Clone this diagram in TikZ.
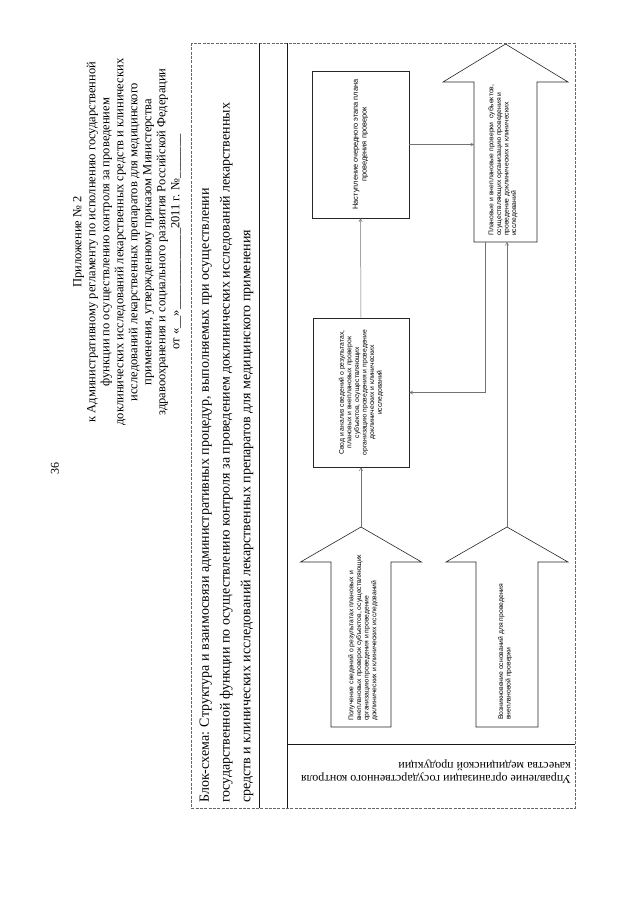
\documentclass[tikz,border=0pt]{standalone}
\usepackage{fontspec}
\setmainfont{Liberation Serif}
\newfontfamily\boxfont{Liberation Sans}
\usetikzlibrary{arrows.meta}
\begin{document}
\begin{tikzpicture}[x=1pt,y=-1pt,
  frame/.style={draw=black!60, line width=0.6pt, dash pattern=on 3pt off 1.3pt},
  rulelane/.style={draw=black!90, line width=0.9pt},
  procbox/.style={draw=black!85, line width=0.6pt, inner sep=0pt},
  blockarrow/.style={draw=black!85, line width=0.6pt, fill=white},
  conn/.style={draw=black!55, line width=0.5pt},
  tipend/.style={-{Straight Barb[length=3pt,width=3.2pt]}},
  nasttext/.style={rotate=90, inner sep=0pt, align=center, font=\boxfont\fontsize{7.4}{8.8}\selectfont},
  boxtext/.style={rotate=90, inner sep=0pt, align=center, font=\boxfont\fontsize{6.8}{7.6}\selectfont},
  arrowtext/.style={rotate=90, anchor=west, inner sep=0pt, align=left, font=\boxfont\fontsize{6.8}{7.6}\selectfont},
  serifrot/.style={rotate=90, inner sep=0pt}
]
\useasboundingbox (0,0) rectangle (640,905);
\fill[white] (0,0) rectangle (640,905);

% page number
\node[serifrot, font=\fontsize{12}{14}\selectfont] (pagenum) at (55,468) {36};

% title block
\node[serifrot, align=center, font=\fontsize{12.5}{14}\selectfont] (title) at (127,242) {Приложение № 2\\
к Административному регламенту по исполнению государственной\\
функции по осуществлению контроля за проведением\\
доклинических исследований лекарственных средств и клинических\\
исследований лекарственных препаратов для медицинского\\
применения, утвержденному приказом Министерства\\
здравоохранения и социального развития Российской Федерации\\
от «\_\_»\_\_\_\_\_\_\_\_\_\_\_\_\_2011 г. №\_\_\_\_\_\_\_};

% frame and lane rules
\coordinate (frameNW) at (191,43);
\coordinate (frameSE) at (575,808);
\draw[frame] (frameNW) rectangle (frameSE);
\coordinate (ruleAtop) at (259,43);
\coordinate (ruleAbot) at (259,808);
\coordinate (ruleBtop) at (287,43);
\coordinate (ruleBbot) at (287,808);
\draw[rulelane] (ruleAtop) -- (ruleAbot);
\draw[rulelane] (ruleBtop) -- (ruleBbot);
\coordinate (laneL) at (287,744);
\coordinate (laneR) at (575,744);
\draw[rulelane, line width=0.7pt] (laneL) -- (laneR);

% header
\node[rotate=90, anchor=west, inner sep=0pt, align=left, font=\fontsize{14}{20.8}\selectfont] (header) at (226.5,803) {Блок-схема: Структура и взаимосвязи административных процедур, выполняемых при осуществлении\\
государственной функции по осуществлению контроля за проведением доклинических исследований лекарственных\\
средств и клинических исследований лекарственных препаратов для медицинского применения};

% lane label
\node[rotate=180, anchor=west, inner sep=0pt, align=left, font=\fontsize{12}{13.2}\selectfont] (lanelabel) at (571,772) {Управление организации государственного контроля\\
качества медицинской продукции};

% process boxes
\node[procbox, minimum width=97pt, minimum height=147pt] (nast) at (360.5,144.5) {};
\node[nasttext] (nasttxt) at (nast.center) {Наступление очередного этапа плана\\проведения проверок};
\node[procbox, minimum width=96pt, minimum height=149pt] (svod) at (361,392.5) {};
\node[boxtext] (svodtxt) at (svod.center) {Свод и анализ сведений о результатах,\\плановых и внеплановых проверок\\субъектов, осуществляющих\\организацию проведения и проведение\\доклинических и клинических\\исследований};

% block arrow: planned checks
\coordinate (planApex) at (505.5,44);
\coordinate (planBotA) at (485,242);
\coordinate (planBotB) at (507,242);
\coordinate (planLeft) at (474,144.5);
\draw[blockarrow] (474,242) -- (474,82) -- (443,82) -- (planApex) -- (568,82) -- (537,82) -- (537,242) -- cycle;
\node[arrowtext] (plantxt) at (503,236) {Плановые и внеплановые проверки \ субъектов,\\осуществляющих организацию проведения и\\проведение доклинических и клинических\\исследований};

% block arrow: receipt of information
\coordinate (polApex) at (361,527);
\draw[blockarrow] (331,727) -- (331,562) -- (300.5,562) -- (polApex) -- (421.5,562) -- (391,562) -- (391,727) -- cycle;
\node[arrowtext] (poltxt) at (363,721) {Получение сведений о результатах плановых и\\внеплановых проверок субъектов, осуществляющих\\организацию проведения и проведение\\доклинических и клинических исследований};

% block arrow: grounds for unscheduled check
\coordinate (voznApex) at (507,527);
\draw[blockarrow] (476,727) -- (476,562) -- (446,562) -- (voznApex) -- (568,562) -- (538,562) -- (538,727) -- cycle;
\node[arrowtext] (vozntxt) at (505,720) {Возникновение оснований для проведения\\внеплановой проверки};

% connectors
\draw[conn, tipend] (nast.east) -- (planLeft);
\draw[conn, tipend] (svod.north) -- (nast.south);
\draw[conn, tipend] (polApex) -- (polApex |- svod.south);
\draw[conn, tipend] (planBotA) -- (planBotA |- svod.east) -- (svod.east);
\draw[conn, tipend] (voznApex) -- (planBotB);
\end{tikzpicture}
\end{document}
